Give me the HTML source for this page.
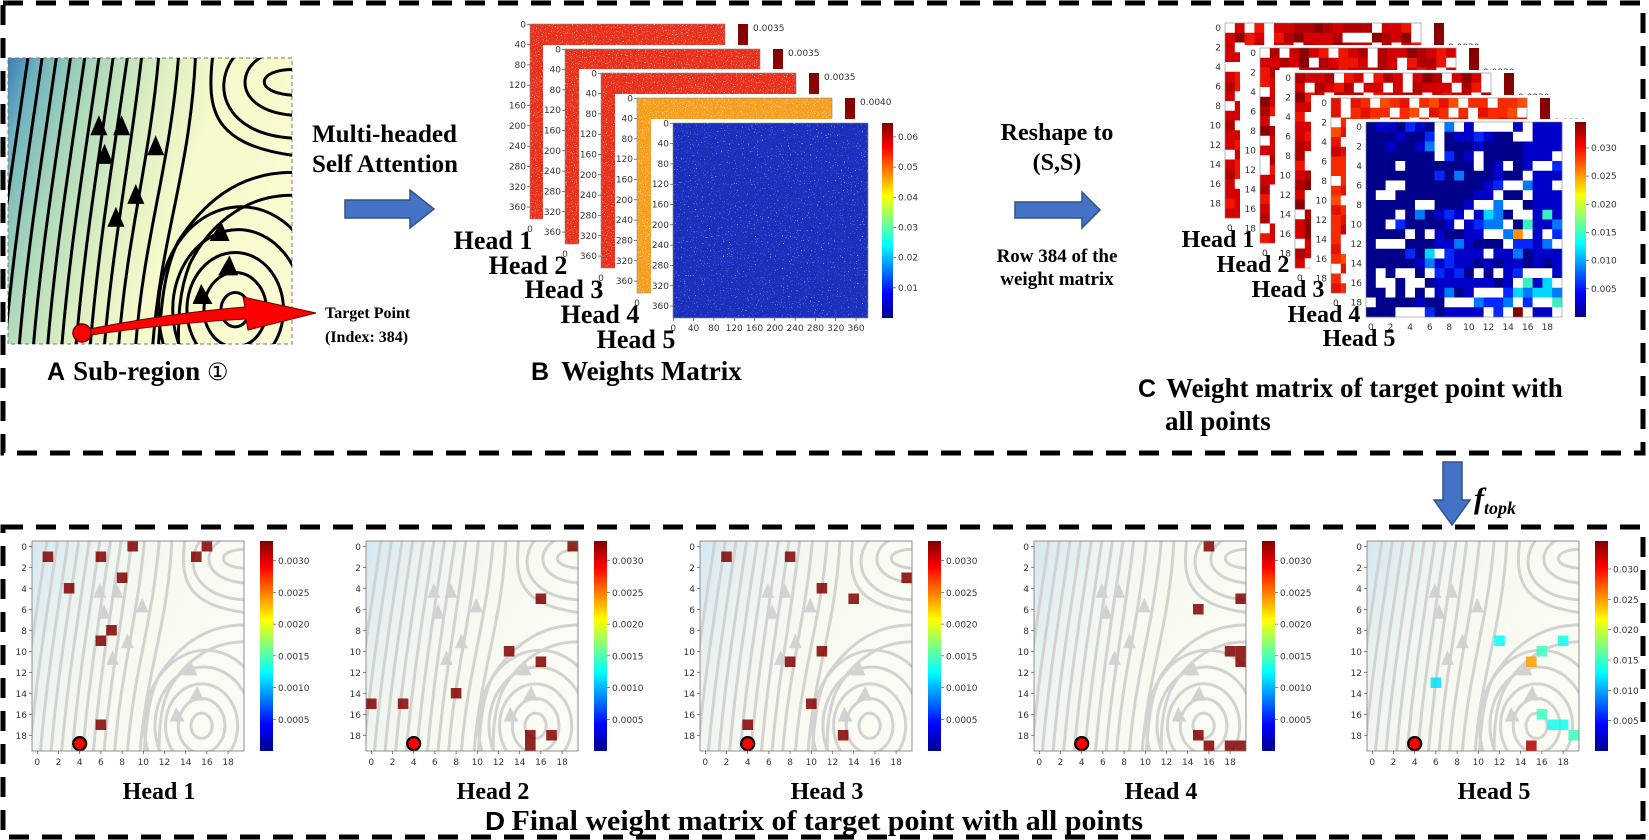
<!DOCTYPE html>
<html><head><meta charset="utf-8"><title>Attention weights figure</title>
<style>
html,body{margin:0;padding:0;background:#fff;}
svg{display:block;}
.ser{font-family:"Liberation Serif",serif;font-weight:bold;fill:#000;}
.sans{font-family:"Liberation Sans",sans-serif;font-weight:bold;fill:#000;}
.tick{font-family:"DejaVu Sans","Liberation Sans",sans-serif;font-size:9px;fill:#333;}
</style></head>
<body>
<svg id="fig" width="1649" height="840" viewBox="0 0 1649 840" xmlns="http://www.w3.org/2000/svg">
<defs>
  <linearGradient id="gA" x1="0" y1="0" x2="1" y2="0.35">
    <stop offset="0" stop-color="#3a7db8"/><stop offset="0.1" stop-color="#6fb3c0"/>
    <stop offset="0.28" stop-color="#acd8ba"/><stop offset="0.5" stop-color="#def0c2"/>
    <stop offset="0.7" stop-color="#f6f9cc"/><stop offset="1" stop-color="#fafbd0"/>
  </linearGradient>
  <linearGradient id="gD" x1="0" y1="0" x2="1" y2="0.4">
    <stop offset="0" stop-color="#d4e8f3"/><stop offset="0.3" stop-color="#eef5f0"/>
    <stop offset="0.6" stop-color="#f8faf0"/><stop offset="1" stop-color="#fafbf2"/>
  </linearGradient>
  <filter id="speck" x="0" y="0" width="1" height="1">
    <feTurbulence type="fractalNoise" baseFrequency="0.9" numOctaves="1" seed="3"/>
    <feColorMatrix type="matrix" values="0 0 0 0 1  0 0 0 0 0.9  0 0 0 0 0.85  10 0 0 0 -6.4"/>
  </filter>
  <filter id="speckB" x="0" y="0" width="1" height="1">
    <feTurbulence type="fractalNoise" baseFrequency="0.85" numOctaves="1" seed="7"/>
    <feColorMatrix type="matrix" values="0 0 0 0 0.6  0 0 0 0 0.75  0 0 0 0 1  9 0 0 0 -5.9"/>
  </filter>
  <linearGradient id="jetV" x1="0" y1="1" x2="0" y2="0">
    <stop offset="0" stop-color="#00008f"/><stop offset="0.125" stop-color="#0000ff"/>
    <stop offset="0.375" stop-color="#00ffff"/><stop offset="0.625" stop-color="#ffff00"/>
    <stop offset="0.875" stop-color="#ff0000"/><stop offset="1" stop-color="#800000"/>
  </linearGradient>
  <linearGradient id="redV" x1="0" y1="1" x2="0" y2="0">
    <stop offset="0" stop-color="#ff2000"/><stop offset="1" stop-color="#800000"/>
  </linearGradient>
  <g id="stream">
    <path fill="none" d="M-6 100 C-3 65 2 35 7 0 M-1 100 C2 65 7 35 12 0 M4 100 C7 65 12 35 17 0 M9 100 C12 65 17 35 22 0 M14 100 C17 65 22 35 27 0 M19 100 C22 65 27 35 32 0 M24 100 C27 65 32 35 37 0 M29 100 C32 65 37 35 42 0 M34 100 C37 65 43 35 47 0 M39 100 C42 62 50 35 53 0 M45 100 C48 62 57 38 60 0 M51 100 C54 62 64 40 66 0"/>
    <path fill="none" d="M72 0 C70 18 72 30 100 34 M100 40 C80 40 68 52 60 64 C55 74 54 86 53 100 M100 48 C82 48 70 60 64 72 C60 82 60 92 60 100"/>
    <path fill="none" d="M100 4 C88 4 86 12 100 13 M100 -3 C80 -3 76 18 100 20 M100 -10 C70 -8 66 26 100 28"/>
    <ellipse fill="none" cx="80" cy="88" rx="5" ry="6"/><ellipse fill="none" cx="80" cy="88" rx="11" ry="13"/>
    <ellipse fill="none" cx="80" cy="88" rx="17" ry="20"/><ellipse fill="none" cx="81" cy="88" rx="23" ry="28"/>
    <ellipse fill="none" cx="82" cy="88" rx="29" ry="36"/>
    <path stroke="none" d="M32 20 L29 27 L35 27Z M40 20 L37 27 L43 27Z M34 30 L31 37 L37 37Z M52 27 L49 34 L55 34Z M45 44 L42 51 L48 51Z M38 52 L35 59 L41 59Z M75 57 L71 64 L78 64Z M78 69 L74 76 L81 76Z M68 79 L65 86 L72 86Z"/>
  </g>
  <clipPath id="clipA"><rect x="0" y="0" width="100" height="100"/></clipPath>
</defs>

<rect x="3" y="3" width="1640" height="450" fill="none" stroke="#000" stroke-width="5" stroke-dasharray="20 13"/>
<rect x="3" y="527" width="1640" height="310" fill="none" stroke="#000" stroke-width="5" stroke-dasharray="20 13"/>

<g>
  <rect x="8" y="58" width="284" height="286" fill="url(#gA)" stroke="#777" stroke-dasharray="4 3"/>
  <g transform="translate(8,58) scale(2.84,2.86)" clip-path="url(#clipA)">
    <use href="#stream" stroke="#000" fill="#000" stroke-width="1.05"/>
  </g>
  <path d="M84 330 Q170 313 245 307 L243 297 L316 313 L248 330 L246 319 Q170 323 84 336 Z" fill="#f00" stroke="#600" stroke-width="1"/>
  <circle cx="82" cy="333" r="9" fill="#f00" stroke="#600" stroke-width="1.5"/>
  <text class="ser" x="325" y="318" font-size="16">Target Point</text>
  <text class="ser" x="325" y="342" font-size="16">(Index: 384)</text>
  <text x="47" y="380"><tspan class="sans" font-size="25">A</tspan><tspan class="ser" font-size="27" dx="8">Sub-region </tspan><tspan font-family="DejaVu Sans,sans-serif" font-size="24">①</tspan></text>
</g>

<text class="ser" x="312" y="142" font-size="25" textLength="145" lengthAdjust="spacingAndGlyphs">Multi-headed</text>
<text class="ser" x="312" y="172" font-size="25" textLength="146" lengthAdjust="spacingAndGlyphs">Self Attention</text>
<path d="M345 200 L410 200 L410 190 L434 209 L410 228 L410 218 L345 218 Z" fill="#4472c4" stroke="#2f528f" stroke-width="1.5"/>

<text class="ser" x="1057" y="140" font-size="24" text-anchor="middle">Reshape to</text>
<text class="ser" x="1057" y="170" font-size="24" text-anchor="middle">(S,S)</text>
<path d="M1015 202 L1082 202 L1082 192 L1100 210 L1082 228 L1082 218 L1015 218 Z" fill="#4472c4" stroke="#2f528f" stroke-width="1.5"/>
<text class="ser" x="1057" y="262" font-size="19" text-anchor="middle">Row 384 of the</text>
<text class="ser" x="1057" y="285" font-size="19" text-anchor="middle">weight matrix</text>

<g id="panelB"></g>
<text x="531" y="380"><tspan class="sans" font-size="25">B</tspan><tspan class="ser" font-size="27" dx="12">Weights Matrix</tspan></text>

<g id="panelC"></g>
<text x="1138" y="397"><tspan class="sans" font-size="25">C</tspan><tspan class="ser" font-size="27" dx="10">Weight matrix of target point with</tspan></text>
<text class="ser" x="1165" y="430" font-size="27">all points</text>

<path d="M1443 462 L1462 462 L1462 500 L1470 500 L1452 525 L1434 500 L1443 500 Z" fill="#4472c4" stroke="#2f528f" stroke-width="1.5"/>
<text x="1474" y="508" font-family="Liberation Serif,serif" font-style="italic" font-weight="bold" font-size="30">f<tspan font-size="18" dy="6">topk</tspan></text>

<g id="panelD"></g>
<text x="485" y="830" textLength="658" lengthAdjust="spacingAndGlyphs"><tspan class="sans" font-size="26">D</tspan><tspan class="ser" font-size="28" dx="6">Final weight matrix of  target point with all points</tspan></text>
<g id="labels"></g>
</svg>

<script>
const NS = "http://www.w3.org/2000/svg";
const headNames = ["Head 1", "Head 2", "Head 3", "Head 4", "Head 5"];
const gridTicks = [0, 2, 4, 6, 8, 10, 12, 14, 16, 18];
const bTicks = [0, 40, 80, 120, 160, 200, 240, 280, 320, 360];
const bColorbarMax = ["0.0035", "0.0035", "0.0035", "0.0040"];
const bHead5Ticks = [0.01, 0.02, 0.03, 0.04, 0.05, 0.06];
const cRedTickLabel = "0.0030";
const cHead5Ticks = [0.005, 0.010, 0.015, 0.020, 0.025, 0.030];
const cHead5Rows = [
"dnndbndWlWnWWWWnWnnn","dddnddbWdnnbnddWWnnn","ddnddnlWdddnddddnnnn","dddddddWbdnWddddnnnW",
"dddWdddddddWdnWdnWWb","dddddddbdldddnddWnnn","ddWWddddddddnbWWlnnW","dWWddddddddnnWddWnnn",
"dddddWWdddnWWlWWdnnn","dddWdldnbnWncldWWngn","ddWbddddnWnbllWdgnnl","ddddWdWnddnnWWloWnWb",
"dWWWdddnnlndddWbbnlW","ddddbdcWbnnnWnnldnnn","dddddnlnbnndndnndndn","dWdWWdWbnbdWdWnbWWWn",
"dWWdWWdnnnnnndnWgncW","ddWdWdWnldnWWWbclccl","WddddnddWWWlbblWbWWg","dddWWWbdnnnnWbWrWnnW"];
const cRedRows = [
"W3W4W3322123222W334W","3143W4213332WWW1231W","3W42W33W2331233W2W34","334W321W2W3W23133W44",
"WW3433W2332431W4433W","343W2W3134W432W23312","24W33231W23443W23W42","3W342WW3232433323W34",
"W3343W23W31WW332W234","332W343W23W3233W34W3","2W313W2332W43W423W31","33W24W3W2342W33W3W23",
"3433W2143W232W43323W","W3212W3323W3343W2232","343W3W4W3232W342343W","24W33W3342W23W432W34",
"3W3W2334W2W3233W34W2","332W43232W3334W23W3W","43W33W2W3423W32W3324","3332W34W32W23W43233W"];
const cellRows = [
  [1, 0, 1, 3, 4, 8, 9, 17, 1, 0],
  [0, 5, 10, 11, 14, 15, 15, 18, 19, 18],
  [1, 1, 3, 4, 5, 10, 11, 15, 17, 18],
  [0, 5, 6, 10, 10, 11, 18, 19, 19, 19],
  [9, 9, 10, 11, 13, 16, 17, 17, 18, 19]];
const cellCols = [
  [1, 9, 6, 8, 3, 7, 6, 6, 15, 16],
  [19, 16, 13, 16, 8, 0, 3, 15, 15, 17],
  [2, 8, 19, 11, 14, 11, 8, 10, 4, 13],
  [16, 19, 15, 19, 18, 19, 15, 16, 18, 19],
  [12, 18, 16, 15, 6, 16, 17, 18, 19, 15]];
const cellValues = [
  [0.0033,0.0033,0.0033,0.0033,0.0033,0.0033,0.0033,0.0033,0.0033,0.0033],
  [0.0033,0.0033,0.0033,0.0033,0.0033,0.0033,0.0033,0.0033,0.0033,0.0033],
  [0.0033,0.0033,0.0033,0.0033,0.0033,0.0033,0.0033,0.0033,0.0033,0.0033],
  [0.0033,0.0033,0.0033,0.0033,0.0033,0.0033,0.0033,0.0033,0.0033,0.0033],
  [0.013,0.0135,0.015,0.025,0.012,0.015,0.0135,0.0135,0.015,0.033]];
const dColorTicks = [0.0005, 0.0010, 0.0015, 0.0020, 0.0025, 0.0030];
const dColorTickLabels = ["0.0005","0.0010","0.0015","0.0020","0.0025","0.0030"];
const d5ColorTicks = [0.005, 0.010, 0.015, 0.020, 0.025, 0.030];
const d5ColorTickLabels = ["0.005","0.010","0.015","0.020","0.025","0.030"];
const targetCell = [4, 18.8];

function mk(tag, attrs, parent) {
  const e = document.createElementNS(NS, tag);
  for (const k in attrs) e.setAttribute(k, attrs[k]);
  if (parent) parent.appendChild(e);
  return e;
}
function clamp(v){return Math.max(0,Math.min(1,v));}
function jet(t){
  t = clamp(t);
  const r = clamp(1.5-Math.abs(4*t-3)), g = clamp(1.5-Math.abs(4*t-2)), b = clamp(1.5-Math.abs(4*t-1));
  return "rgb("+Math.round(r*255)+","+Math.round(g*255)+","+Math.round(b*255)+")";
}
function txt(parent, x, y, s, cls, anchor, size) {
  const t = mk("text", {x:x, y:y, class:cls, "text-anchor":anchor||"start"}, parent);
  if (size) t.setAttribute("font-size", size);
  t.textContent = s;
  return t;
}
const labelsG = document.getElementById("labels");

(function(){
  const g = document.getElementById("panelB");
  const px = [530, 565, 601, 637, 673], py = [24, 49, 73, 98, 123];
  const w = 195, h = 195;
  const fills = ["#e8321e", "#e8321e", "#e8321e", "#f5a020", "#1a30bc"];
  for (let i = 0; i < 5; i++) {
    const x = px[i], y = py[i];
    const grp = mk("g", {}, g);
    
    
    mk("rect", {x:x-22, y:y-4, width: i===4 ? 250 : 260, height:h+30, fill:"#fff"}, grp);
    mk("rect", {x:x, y:y, width:w, height:h, fill:fills[i]}, grp);
    mk("rect", {x:x, y:y, width:w, height:h, fill:"#fff", filter: i===4 ? "url(#speckB)" : "url(#speck)"}, grp);
    mk("rect", {x:x, y:y, width:w, height:h, fill:"none", stroke:"#888", "stroke-width":0.6}, grp);
    const ys = v => y + (v+0.5)/384*h, xs = v => x + (v+0.5)/384*w;
    bTicks.forEach(v => {
      mk("line", {x1:x-3, x2:x, y1:ys(v), y2:ys(v), stroke:"#333", "stroke-width":0.6}, grp);
      txt(grp, x-4, ys(v)+3, String(v), "tick", "end", 8.5);
    });
    if (i === 4) {
      bTicks.forEach(v => {
        mk("line", {x1:xs(v), x2:xs(v), y1:y+h, y2:y+h+3, stroke:"#333", "stroke-width":0.6}, grp);
        txt(grp, xs(v), y+h+13, String(v), "tick", "middle", 8.5);
      });
      const cx = 882, cw = 11;
      mk("rect", {x:cx, y:y, width:cw, height:h, fill:"url(#jetV)"}, grp);
      const cy = v => y + h - (v - 0.0) / 0.0646 * h;
      bHead5Ticks.forEach(v => {
        mk("line", {x1:cx+cw, x2:cx+cw+3, y1:cy(v), y2:cy(v), stroke:"#333", "stroke-width":0.6}, grp);
        txt(grp, cx+cw+5, cy(v)+3, v.toFixed(2), "tick", "start", 8.5);
      });
    } else {
      txt(grp, x, y+h+13, "0", "tick", "middle", 8.5);
      txt(grp, x+w-140, y+h+13, "360", "tick", "middle", 8.5);
      const cx = x+w+13;
      mk("rect", {x:cx, y:y, width:10, height:h, fill:"url(#redV)"}, grp);
      txt(grp, cx+15, y+7, bColorbarMax[i], "tick", "start", 8.5);
    }
    const lab = txt(labelsG, x-37, y+225, headNames[i], "ser", "middle", 26);
    
    
  }
})();

(function(){
  const g = document.getElementById("panelC");
  const px = [1225, 1260, 1295, 1331, 1366], py = [23, 48, 73, 98, 122];
  const w = 196, h = 195, n = 20;
  const redPal = {"1":"#8b0000","2":"#b00000","3":"#d40000","4":"#f01400","W":"#ffffff"};
  const orPal = {"1":"#c80000","2":"#e41000","3":"#f52a00","4":"#ff4a00","W":"#ffffff"};
  const bluePal = {d:"#00008b",n:"#0000c8",b:"#0028ff",l:"#0078ff",c:"#00d8ff",g:"#38f0c0",o:"#ff9000",r:"#800000",W:"#ffffff"};
  for (let i = 0; i < 5; i++) {
    const x = px[i], y = py[i];
    const grp = mk("g", {}, g);
    
    
    mk("rect", {x:x-20, y:y-3, width: i===4 ? 270 : 240, height:h+22, fill:"#fff"}, grp);
    const cw = w/n, ch = h/n;
    for (let r = 0; r < n; r++) for (let c = 0; c < n; c++) {
      let col;
      if (i === 4) col = bluePal[cHead5Rows[r][c]];
      else {
        const row = cRedRows[(r + i*5) % n];
        const ch2 = row[(c + i*3) % n];
        col = (i === 3 ? orPal : redPal)[ch2];
      }
      mk("rect", {x:(x + c*cw).toFixed(2), y:(y + r*ch).toFixed(2), width:(cw+0.3).toFixed(2), height:(ch+0.3).toFixed(2), fill:col}, grp);
    }
    mk("rect", {x:x, y:y, width:w, height:h, fill:"none", stroke:"#888", "stroke-width":0.6}, grp);
    const ys = v => y + (v+0.5)*ch, xs = v => x + (v+0.5)*cw;
    gridTicks.forEach(v => txt(grp, x-4, ys(v)+3, String(v), "tick", "end", 8.5));
    if (i === 4) {
      gridTicks.forEach(v => txt(grp, xs(v), y+h+13, String(v), "tick", "middle", 9));
      const cx = 1575, cwd = 11;
      mk("rect", {x:cx, y:y, width:cwd, height:h, fill:"url(#jetV)"}, grp);
      const cy = v => y + h - v/0.0346*h;
      cHead5Ticks.forEach(v => {
        mk("line", {x1:cx+cwd, x2:cx+cwd+3, y1:cy(v), y2:cy(v), stroke:"#333", "stroke-width":0.6}, grp);
        txt(grp, cx+cwd+5, cy(v)+3, v.toFixed(3), "tick", "start", 9);
      });
    } else {
      txt(grp, xs(0), y+h+13, "0", "tick", "middle", 8.5);
      const cx = x+w+13;
      mk("rect", {x:cx, y:y, width:10, height:h, fill:"url(#redV)"}, grp);
      txt(grp, cx+14, y+27, cRedTickLabel, "tick", "start", 8.5);
    }
    const lab = txt(labelsG, x-7, y+224, headNames[i], "ser", "middle", 24);
    
    
  }
})();

(function(){
  const g = document.getElementById("panelD");
  const px = [32, 366, 700, 1034, 1367], py = 541, w = 212, h = 210, n = 20;
  for (let i = 0; i < 5; i++) {
    const x = px[i];
    const grp = mk("g", {}, g);
    
    
    const xScale = v => x + (v + 0.5) / n * w;
    const yScale = v => py + (v + 0.5) / n * h;
    const cw = w/n, ch = h/n;
    mk("rect", {x:x, y:py, width:w, height:h, fill:"url(#gD)"}, grp);
    const sg = mk("g", {transform:"translate("+x+","+py+") scale("+(w/100)+","+(h/100)+")", "clip-path":"url(#clipA)"}, grp);
    mk("use", {href:"#stream", stroke:"#d2d2d2", fill:"#d2d2d2", "stroke-width":1.4}, sg);
    const vmax = i === 4 ? 0.0346 : 0.00331;
    for (let k = 0; k < cellRows[i].length; k++) {
      const r = cellRows[i][k], c = cellCols[i][k], v = cellValues[i][k];
      const cell = mk("rect", {x:(xScale(c)-cw/2).toFixed(2), y:(yScale(r)-ch/2).toFixed(2), width:cw.toFixed(2), height:ch.toFixed(2), fill:jet(v/vmax), "fill-opacity":0.85}, grp);
      
      
    }
    const dot = mk("circle", {cx:xScale(targetCell[0]), cy:yScale(targetCell[1]), r:6.5, fill:"#f00", stroke:"#000", "stroke-width":2.2}, grp);
    
    
    mk("rect", {x:x, y:py, width:w, height:h, fill:"none", stroke:"#777", "stroke-width":0.8}, grp);
    gridTicks.forEach(v => {
      mk("line", {x1:x-3, x2:x, y1:yScale(v), y2:yScale(v), stroke:"#333", "stroke-width":0.6}, grp);
      txt(grp, x-5, yScale(v)+3.5, String(v), "tick", "end", 10);
      mk("line", {x1:xScale(v), x2:xScale(v), y1:py+h, y2:py+h+3, stroke:"#333", "stroke-width":0.6}, grp);
      txt(grp, xScale(v), py+h+14, String(v), "tick", "middle", 10);
    });
    const cx = x + 228, cwd = 13;
    const cb = mk("rect", {x:cx, y:py, width:cwd, height:h, fill:"url(#jetV)"}, grp);
    
    
    const ticks = i === 4 ? d5ColorTicks : dColorTicks;
    const labels = i === 4 ? d5ColorTickLabels : dColorTickLabels;
    const cy = v => py + h - v / vmax * h;
    ticks.forEach((v, k) => {
      mk("line", {x1:cx+cwd, x2:cx+cwd+3, y1:cy(v), y2:cy(v), stroke:"#333", "stroke-width":0.6}, grp);
      txt(grp, cx+cwd+5, cy(v)+3.5, labels[k], "tick", "start", 10);
    });
    const lab = txt(labelsG, x + 127, 799, headNames[i], "ser", "middle", 24);
    
    
  }
})();
</script>
</body></html>
